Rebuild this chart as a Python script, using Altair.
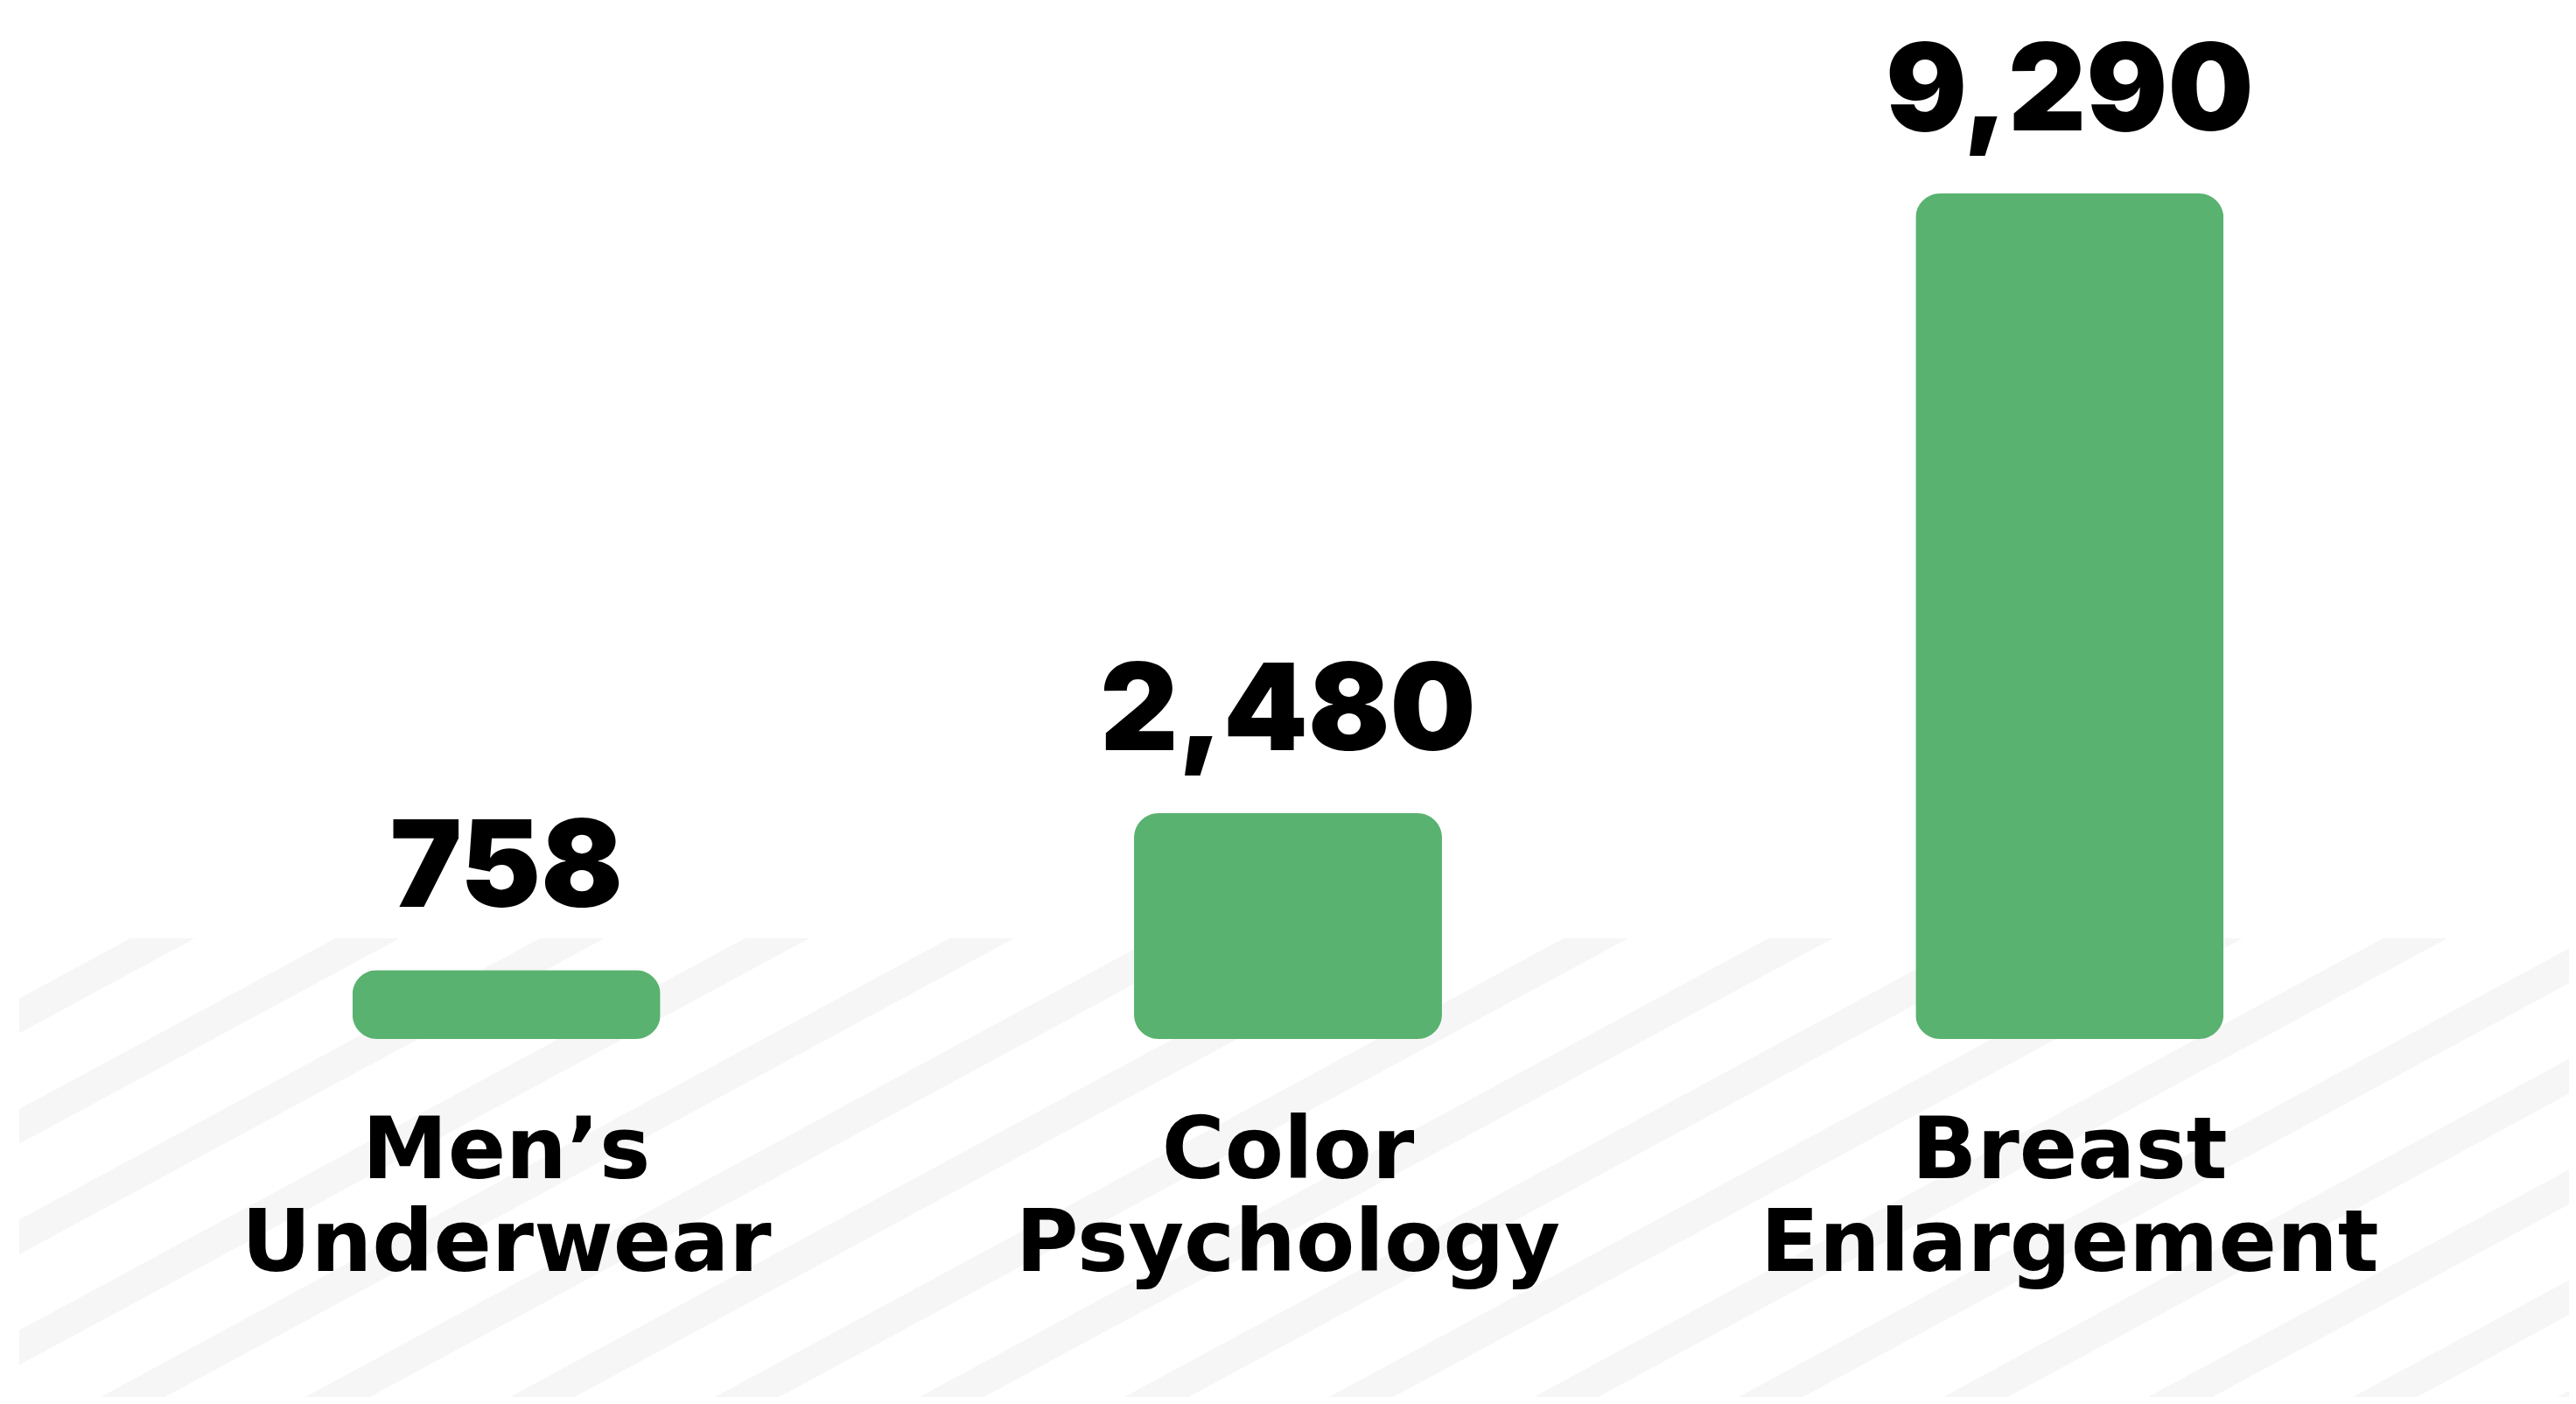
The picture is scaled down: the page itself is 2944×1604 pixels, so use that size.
import altair as alt
import pandas as pd

# ---- data ----
categories = ["Men’s Underwear", "Color Psychology", "Breast Enlargement"]
label_lines = ["Men’s\nUnderwear", "Color\nPsychology", "Breast\nEnlargement"]
values = [758, 2480, 9290]

df = pd.DataFrame({"category": categories, "label": label_lines, "value": values})

# ---- layout constants (chart pixels) ----
W, H = 2928, 1588
BASE_Y, TOP_Y = 1179, 213          # pixel of value 0 and of the max value
STRIPE_TOP, STRIPE_LEFT = 1064, 14
STRIPE_C0, STRIPE_STEP, SLOPE = 178, 234, 0.54
GREEN = "#59b26f"
STRIPE = "#f6f6f6"

x_scale = alt.Scale(type="band", domain=categories, paddingInner=0.606, paddingOuter=0.442)
y_scale = alt.Scale(domain=[0, max(values)], range=[BASE_Y, TOP_Y], nice=False, zero=True)

# ---- background diagonal stripes (decoration) ----
stripes = (
    alt.Chart(alt.sequence(0, 18, as_="i"))
    .transform_calculate(
        c=f"{STRIPE_C0} + {STRIPE_STEP} * datum.i",
    )
    .transform_calculate(
        x1="datum.c - 1200",
        y1=f"{STRIPE_TOP} + {SLOPE} * 1200",
        x2="datum.c + 150",
        y2=f"{STRIPE_TOP} - {SLOPE} * 150",
    )
    .mark_rule(strokeWidth=35, color=STRIPE)
    .encode(
        x=alt.X("x1:Q", scale=None, axis=None),
        y=alt.Y("y1:Q", scale=None, axis=None),
        x2="x2:Q",
        y2="y2:Q",
    )
)

cover_top = alt.Chart(alt.sequence(0, 1, as_="i")).mark_rect(color="white").encode(
    x=alt.value(0), x2=alt.value(W), y=alt.value(0), y2=alt.value(STRIPE_TOP)
)
cover_left = alt.Chart(alt.sequence(0, 1, as_="i")).mark_rect(color="white").encode(
    x=alt.value(0), x2=alt.value(STRIPE_LEFT), y=alt.value(STRIPE_TOP), y2=alt.value(H)
)

base = alt.Chart(df).encode(
    x=alt.X("category:N", scale=x_scale, axis=None, sort=categories)
)

bars = base.mark_bar(cornerRadius=28, color=GREEN).encode(
    y=alt.Y("value:Q", scale=y_scale, axis=None)
)

value_text = base.mark_text(
    font="Inter", fontWeight=900, fontSize=138, baseline="alphabetic",
    align="center", dy=-72, color="black"
).encode(
    y=alt.Y("value:Q", scale=y_scale, axis=None),
    text=alt.Text("value:Q", format=","),
)

cat_text = base.transform_calculate(zero="0").mark_text(
    font="DejaVu Sans", fontWeight="bold", fontSize=98, lineHeight=106,
    baseline="alphabetic", align="center", lineBreak="\n", dy=159, color="black"
).encode(
    y=alt.Y("zero:Q", scale=y_scale, axis=None),
    text="label:N",
)

chart = (
    alt.layer(stripes, cover_top, cover_left, bars, value_text, cat_text)
    .resolve_scale(x="independent", y="independent")
    .properties(width=W, height=H, padding=0, autosize="none", background="white")
    .configure_view(strokeWidth=0)
)

chart.save("out.html", embed_options={"renderer": "svg", "actions": False})
